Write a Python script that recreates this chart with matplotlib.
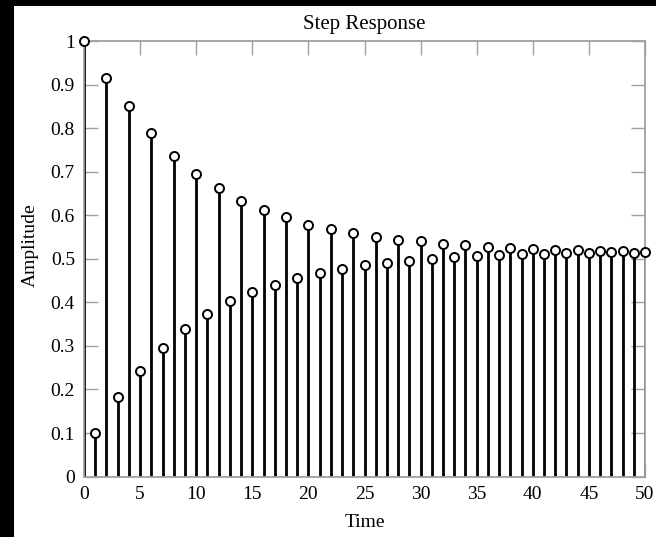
import matplotlib
matplotlib.use("Agg")
import matplotlib.pyplot as plt
from matplotlib.patches import Rectangle

time = list(range(0, 51))
amplitude = [1.000, 0.101, 0.916, 0.182, 0.851, 0.242, 0.788, 0.296, 0.737, 0.338,
             0.695, 0.374, 0.662, 0.402, 0.633, 0.424, 0.611, 0.440, 0.595, 0.456,
             0.578, 0.467, 0.568, 0.477, 0.560, 0.485, 0.551, 0.491, 0.543, 0.496,
             0.540, 0.499, 0.534, 0.503, 0.531, 0.506, 0.528, 0.508, 0.525, 0.510,
             0.522, 0.512, 0.521, 0.514, 0.520, 0.513, 0.518, 0.515, 0.518, 0.514,
             0.515]
xticks = [0, 5, 10, 15, 20, 25, 30, 35, 40, 45, 50]
yticks = [0, 0.1, 0.2, 0.3, 0.4, 0.5, 0.6, 0.7, 0.8, 0.9, 1]
ytick_labels = ["0", "0.1", "0.2", "0.3", "0.4", "0.5", "0.6", "0.7", "0.8", "0.9", "1"]

plt.rcParams['font.family'] = ['Liberation Serif', 'DejaVu Serif']

fig = plt.figure(figsize=(6.56, 5.37), dpi=100)
fig.patch.set_facecolor('white')
# black border strips (left and top) as in the reference scan
fig.patches.append(Rectangle((0, 0), 14/656, 1, transform=fig.transFigure,
                             facecolor='black', edgecolor='none', zorder=0))
fig.patches.append(Rectangle((0, 1 - 6/537), 1, 6/537, transform=fig.transFigure,
                             facecolor='black', edgecolor='none', zorder=0))

ax = fig.add_axes([84/656, 60.4/537, (645-84)/656, (476.6-41)/537])

markerline, stemlines, baseline = ax.stem(time, amplitude, linefmt='k-', markerfmt='o', basefmt=' ')
plt.setp(stemlines, linewidth=2.0, color='black')
plt.setp(markerline, markersize=6.5, markerfacecolor='white', markeredgecolor='black',
         markeredgewidth=1.4, zorder=3)
markerline.set_clip_on(False)

ax.set_xlim(0, 50)
ax.set_ylim(0, 1)
ax.set_xticks(xticks)
ax.set_yticks(yticks)
ax.set_yticklabels(ytick_labels)

for s in ax.spines.values():
    s.set_color('#a0a0a0')
    s.set_linewidth(1.3)

ax.tick_params(direction='in', length=10, width=1, color='#a0a0a0',
               labelsize=14, labelcolor='black', top=True, right=True, pad=6.5)

ax.set_title('Step Response', fontsize=15, pad=9)
ax.set_xlabel('Time', fontsize=14, labelpad=8)
ax.set_ylabel('Amplitude', fontsize=14)
ax.yaxis.set_label_coords(-0.08, 0.532)

fig.savefig('out.png', dpi=100)
